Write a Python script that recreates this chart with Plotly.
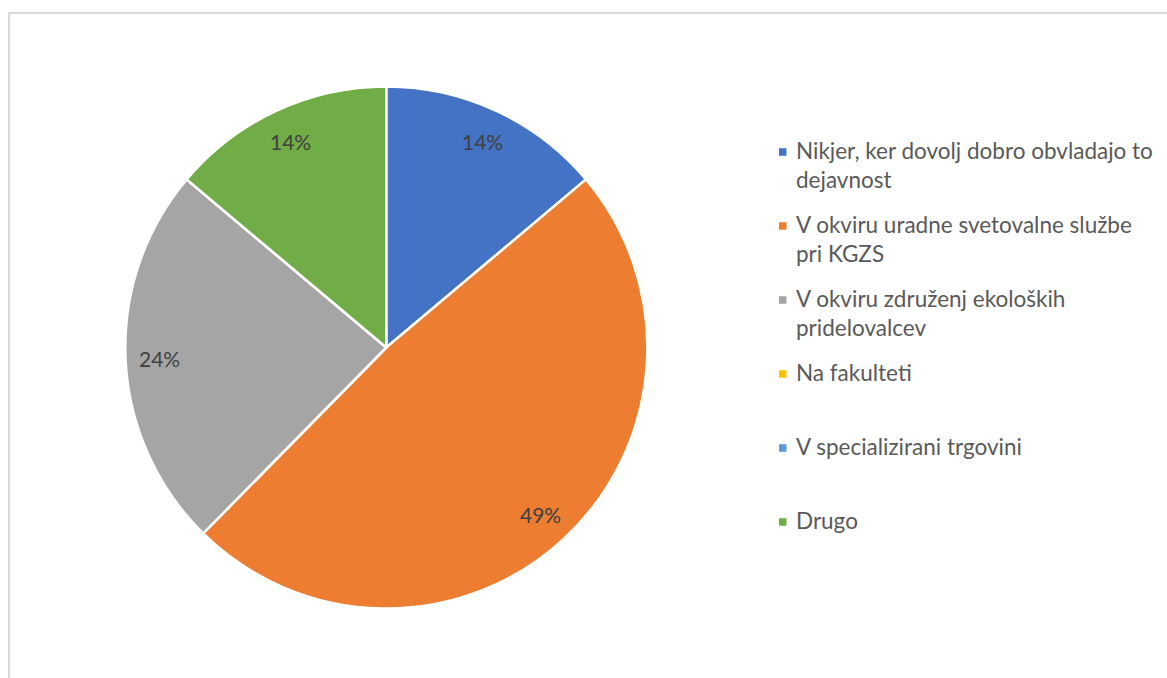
import math
import plotly.graph_objects as go

# Survey answers: where respondents get advice (share of answers, %)
labels = [
    "Nikjer, ker dovolj dobro obvladajo to dejavnost",
    "V okviru uradne svetovalne službe pri KGZS",
    "V okviru združenj ekoloških pridelovalcev",
    "Na fakulteti",
    "V specializirani trgovini",
    "Drugo",
]
# Legend text as it is wrapped on screen
legend_lines = [
    ["Nikjer, ker dovolj dobro obvladajo to", "dejavnost"],
    ["V okviru uradne svetovalne službe", "pri KGZS"],
    ["V okviru združenj ekoloških", "pridelovalcev"],
    ["Na fakulteti"],
    ["V specializirani trgovini"],
    ["Drugo"],
]
values = [14, 49, 24, 0, 0, 14]
colors = ["#4472C4", "#ED7D31", "#A5A5A5", "#FFC000", "#5B9BD5", "#70AD47"]

W, H = 1167, 678
FONT = "Lato"
# pie geometry in pixels
CX, CY, R = 386.3, 347.5, 261


def px(x):
    return x / W


def py(y):
    return 1 - y / H


fig = go.Figure()
fig.add_trace(go.Pie(
    labels=labels,
    values=values,
    sort=False,
    direction="clockwise",
    rotation=0,
    marker=dict(colors=colors, line=dict(color="white", width=2.5)),
    textinfo="none",
    hoverinfo="label+value",
    showlegend=False,
    domain=dict(x=[px(CX - R), px(CX + R)], y=[py(CY + R), py(CY - R)]),
))

annotations = []

# value labels placed near the outer edge of each slice
total = sum(values)
cum = 0
for v in values:
    if v > 0:
        mid = (cum + v / 2) / total * 2 * math.pi
        lx = CX + 0.87 * R * math.sin(mid)
        ly = CY - 0.87 * R * math.cos(mid)
        annotations.append(dict(
            xref="paper", yref="paper", x=px(lx), y=py(ly),
            xanchor="center", yanchor="middle", showarrow=False,
            text=f"{v}%",
            font=dict(family=FONT, size=21, color="#404040"),
        ))
    cum += v

shapes = [
    # outer chart frame
    dict(type="rect", xref="paper", yref="paper",
         x0=px(9), x1=1.02, y0=-0.02, y1=py(13),
         line=dict(color="#D9D9D9", width=2), fillcolor="rgba(0,0,0,0)", layer="below"),
]
for i, (lines, col) in enumerate(zip(legend_lines, colors)):
    yc = 152 + 74 * i
    shapes.append(dict(type="rect", xref="paper", yref="paper",
                       x0=px(779), x1=px(786.5), y0=py(yc + 3.75), y1=py(yc - 3.75),
                       line=dict(width=0), fillcolor=col))
    for j, line in enumerate(lines):
        annotations.append(dict(
            xref="paper", yref="paper", x=px(794), y=py(yc - 1.5 + 29 * j),
            xanchor="left", yanchor="middle", showarrow=False,
            text=line, font=dict(family=FONT, size=22.5, color="#595959"),
        ))

fig.update_layout(
    width=W, height=H,
    margin=dict(l=0, r=0, t=0, b=0),
    paper_bgcolor="white",
    plot_bgcolor="white",
    shapes=shapes,
    annotations=annotations,
)

fig.write_html("out.html")
